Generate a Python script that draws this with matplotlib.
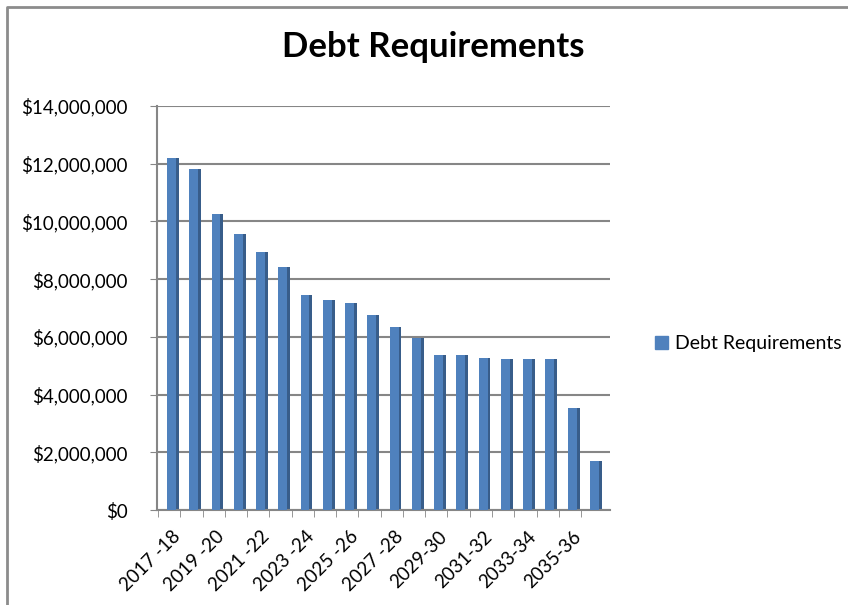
import matplotlib.pyplot as plt
import matplotlib.patches as mpatches
from matplotlib.lines import Line2D
import numpy as np
from matplotlib.ticker import FuncFormatter

# Fiscal years and debt requirement values
years = ['2017 -18', '2018 -19', '2019 -20', '2020 -21', '2021 -22', '2022 -23',
         '2023 -24', '2024 -25', '2025 -26', '2026 -27', '2027 -28', '2028-29',
         '2029-30', '2030-31', '2031-32', '2032-33', '2033-34', '2034-35',
         '2035-36', '2036-37']
debt = [12200000, 11800000, 10250000, 9580000, 8950000, 8430000,
        7450000, 7260000, 7180000, 6760000, 6340000, 5960000,
        5380000, 5370000, 5260000, 5230000, 5230000, 5230000,
        3550000, 1700000]
series_name = 'Debt Requirements'

plt.rcParams['font.family'] = ['Lato', 'DejaVu Sans']

fig = plt.figure(figsize=(8.48, 6.05), dpi=100)
ax = fig.add_axes([157 / 848, 95 / 605, 453 / 848, 404 / 605])

# outer chart frame (only left and top edges visible in the crop)
fy = 1 - 7 / 605
fx = 7 / 848
fig.lines.append(Line2D([fx, fx, 1.0], [0, fy, fy], transform=fig.transFigure,
                        color='#8c8c8c', linewidth=2))

x = np.arange(len(years))
front = '#4f81bd'
side = '#385d8a'
w = 0.4
# side face (pseudo 3D), then front face
ax.bar(x + w / 2 + 0.06, debt, width=0.14, color=side, zorder=2, linewidth=0)
ax.bar(x, debt, width=w, color=front, zorder=3, linewidth=0)

ax.set_ylim(0, 14000000)
ax.set_yticks(np.arange(0, 14000001, 2000000))
ax.yaxis.set_major_formatter(FuncFormatter(lambda v, p: '${:,.0f}'.format(v)))
ax.set_xlim(-0.65, len(years) - 0.3)

ax.grid(axis='y', color='#868686', linewidth=1.5, zorder=0)
ax.set_axisbelow(True)
for s in ['top', 'right']:
    ax.spines[s].set_visible(False)
ax.spines['left'].set_color('#868686')
ax.spines['bottom'].set_color('#868686')
ax.spines['left'].set_linewidth(1.5)
ax.spines['bottom'].set_linewidth(1.5)

ax.tick_params(axis='y', length=5, color='#868686', labelsize=13.5, pad=16)
ax.set_xticks(x - 0.6, minor=True)
ax.tick_params(axis='x', which='minor', length=5, color='#868686')
ax.set_xticks(x[::2])
ax.set_xticklabels(years[::2], rotation=45, ha='right', rotation_mode='anchor',
                   fontsize=13.5)
ax.tick_params(axis='x', which='major', length=0, pad=13)

fig.text(433 / 848, 1 - 47 / 605, 'Debt Requirements', ha='center', va='center',
         fontsize=25, fontweight='bold')

handle = mpatches.Patch(color=front, label=series_name)
fig.legend(handles=[handle], loc='center left', bbox_to_anchor=(655 / 848, 1 - 344 / 605),
           frameon=False, fontsize=14, handlelength=0.65, handleheight=0.65,
           handletextpad=0.4, borderpad=0, borderaxespad=0)

fig.savefig('out.png', dpi=100)
